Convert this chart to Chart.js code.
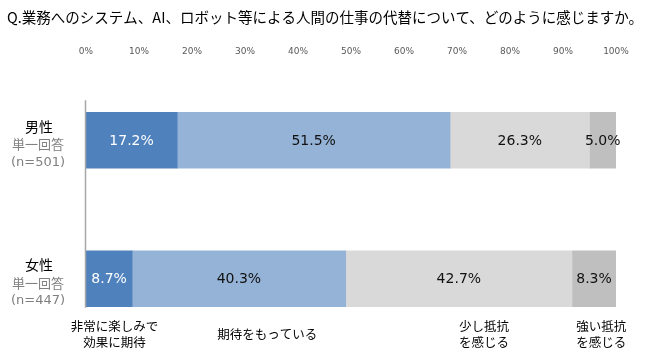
<!DOCTYPE html>
<html>
<head>
<meta charset="utf-8">
<script src="https://cdn.jsdelivr.net/npm/chart.js@4"></script>
<style>
  html, body { margin:0; padding:0; background:#fff; }
  #wrap { width:649px; height:352px; }
</style>
</head>
<body>
<div id="wrap"><canvas id="c" width="649" height="352"></canvas></div>
<script>
// data
const title = 'Q.業務へのシステム、AI、ロボット等による人間の仕事の代替について、どのように感じますか。';
const groups = ['男性', '女性'];
const sampleSizes = [501, 447];
const answerNames = [['非常に楽しみで', '効果に期待'], ['期待をもっている'], ['少し抵抗', 'を感じる'], ['強い抵抗', 'を感じる']];
const veryHopeful = [17.2, 8.7];
const hopeful = [51.5, 40.3];
const someResist = [26.3, 42.7];
const strongResist = [5.0, 8.3];
const xTicks = [0, 10, 20, 30, 40, 50, 60, 70, 80, 90, 100];

const colors = ['#4F81BD', '#95B3D7', '#D9D9D9', '#BFBFBF'];
const labelColors = ['#fff', '#111', '#111', '#111'];
const jp = '"Noto Sans CJK JP", sans-serif';

const series = [veryHopeful, hopeful, someResist, strongResist];

// texts drawn around the plot: title, group labels, value labels, answer names
const decor = {
  id: 'decor',
  afterDatasetsDraw(chart) {
    const ctx = chart.ctx;
    const xs = chart.scales.x, ys = chart.scales.y;
    const area = chart.chartArea;
    ctx.save();

    // title
    ctx.fillStyle = '#000';
    ctx.font = '14.6px ' + jp;
    ctx.textAlign = 'left';
    ctx.textBaseline = 'middle';
    ctx.fillText(title, 7, 17, 636);

    // left axis line
    ctx.strokeStyle = '#A6A6A6';
    ctx.lineWidth = 1.5;
    ctx.beginPath();
    ctx.moveTo(area.left - 0.5, ys.getPixelForValue(0) - 40);
    ctx.lineTo(area.left - 0.5, ys.getPixelForValue(1) + 29);
    ctx.stroke();

    // value labels
    ctx.font = '14px "DejaVu Sans", sans-serif';
    ctx.textAlign = 'center';
    chart.data.datasets.forEach((ds, di) => {
      const meta = chart.getDatasetMeta(di);
      meta.data.forEach((bar, i) => {
        const v = ds.data[i];
        const mid = (bar.x + bar.base) / 2;
        ctx.fillStyle = labelColors[di];
        ctx.fillText(v.toFixed(1) + '%', mid, bar.y + 1);
      });
    });

    // group labels
    groups.forEach((g, i) => {
      const y = ys.getPixelForValue(i) + 4;
      ctx.textAlign = 'center';
      ctx.fillStyle = '#000';
      ctx.font = '14px ' + jp;
      ctx.fillText(g, 39, y - 18);
      ctx.fillStyle = '#808080';
      ctx.font = '13px ' + jp;
      ctx.fillText('単一回答', 38, y);
      ctx.font = '13px "DejaVu Sans", sans-serif';
      ctx.fillText('(n=' + sampleSizes[i] + ')', 38, y + 18);
    });

    // answer names under the plot
    const anchors = [5.4, 34.2, 75.1, 97.2];
    ctx.fillStyle = '#000';
    ctx.font = '12.5px ' + jp;
    answerNames.forEach((lines, i) => {
      const x = xs.getPixelForValue(anchors[i]);
      const y0 = lines.length > 1 ? 326 : 334;
      lines.forEach((t, k) => ctx.fillText(t, x, y0 + k * 16));
    });
    ctx.restore();
  }
};

new Chart(document.getElementById('c'), {
  type: 'bar',
  data: {
    labels: groups,
    datasets: series.map((d, i) => ({
      label: answerNames[i].join(''),
      data: d,
      backgroundColor: colors[i],
      borderWidth: 0,
      barThickness: 56
    }))
  },
  options: {
    indexAxis: 'y',
    responsive: false,
    animation: false,
    layout: { padding: { left: 86, right: 33, top: 0, bottom: 4 } },
    plugins: { legend: { display: false }, tooltip: { enabled: false } },
    scales: {
      x: {
        position: 'top',
        stacked: true,
        min: 0, max: 100,
        afterBuildTicks: s => { s.ticks = xTicks.map(v => ({ value: v })); },
        afterFit: s => { s.height = 71; },
        grid: { display: false, drawTicks: false },
        border: { display: false },
        ticks: {
          padding: 14,
          color: '#595959',
          font: { size: 9, family: '"DejaVu Sans", sans-serif' },
          callback: v => v + '%'
        }
      },
      y: {
        stacked: true,
        display: false
      }
    }
  },
  plugins: [decor]
});
</script>
</body>
</html>
